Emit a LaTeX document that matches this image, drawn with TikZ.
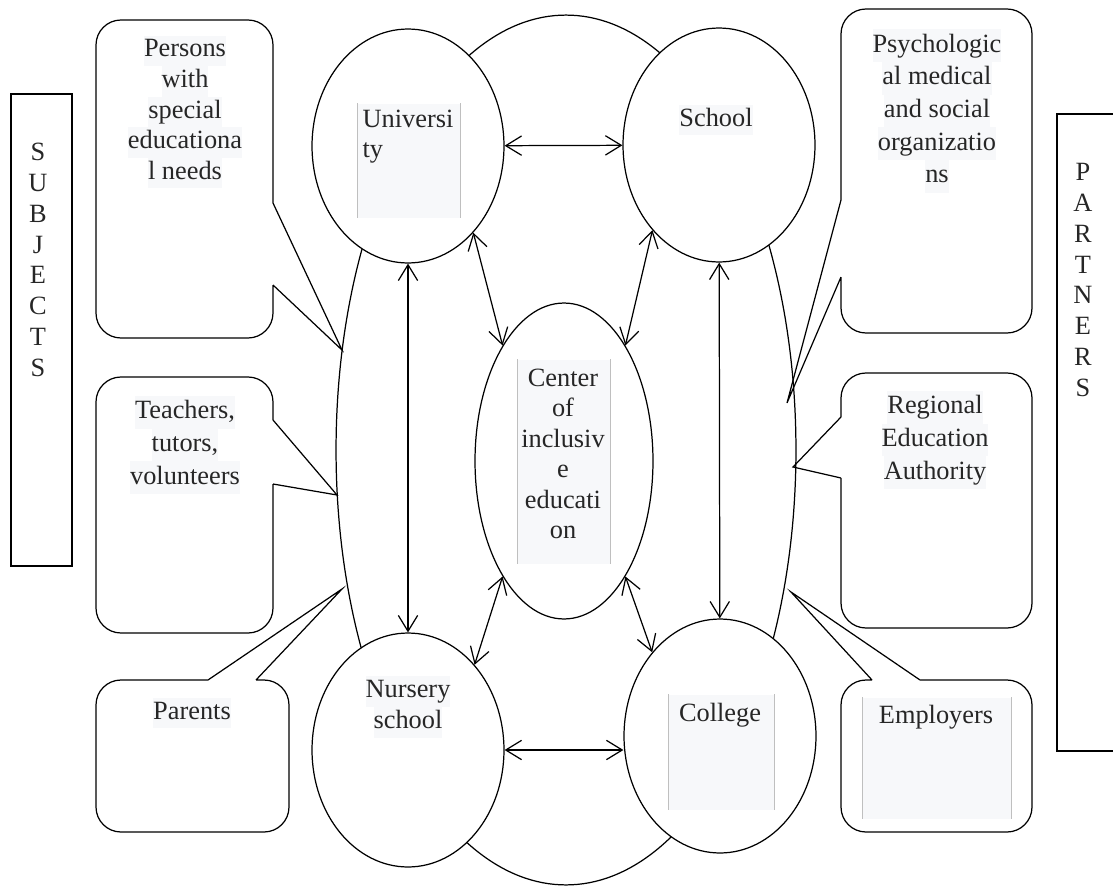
\documentclass[tikz,border=0pt]{standalone}
\usepackage{fontspec}
\setmainfont{Liberation Serif}
\usetikzlibrary{shapes.geometric, arrows.meta}
\definecolor{hl}{RGB}{247,248,250}
\newcommand{\hilite}[1]{{\setlength{\fboxsep}{0pt}\colorbox{hl}{\strut #1}}}
\tikzset{
  org/.style={ellipse, draw, fill=white, minimum width=3.84cm, minimum height=4.68cm},
  bubble/.style={draw, rounded corners=0.5cm},
  txt/.style={font=\fontsize{15}{17.4}\selectfont, text=black!85, align=center, inner sep=0pt},
  wide/.style={font=\fontsize{15}{18.6}\selectfont},
  hlbox/.style={fill=hl, inner sep=0pt},
  hlrule/.style={draw=black!25, line width=0.5pt}
}

\begin{document}
\begin{tikzpicture}[x=0.02cm, y=-0.02cm, line width=0.7pt, >={Straight Barb[length=9pt,width=11pt]}]
    \useasboundingbox (0,0) rectangle (1113,896);
    % big ring behind the institutions
    \node[ellipse, draw, minimum width=9.2cm, minimum height=17.4cm] (ring) at (566,450) {};
    \node[org] (univ) at (408,146) {};
    \node[org] (school) at (719,145) {};
    \node[org] (nursery) at (408,750) {};
    \node[org] (college) at (720,736) {};
    \node[ellipse, draw, fill=white, minimum width=3.56cm, minimum height=6.32cm] (centre) at (564,461) {};
    % links
    \draw[<->] (univ) -- (school);
    \draw[<->] (nursery.east) -- (nursery.east -| college.west);
    \draw[<->] (univ) -- (nursery);
    \draw[<->] (school) -- (college);
    \draw[<->] (univ.-53) -- (centre.118);
    \draw[<->] (school.-128) -- (centre.62);
    \draw[<->] (nursery.52) -- (centre.-118);
    \draw[<->] (college.129) -- (centre.-62);
    % grey text boxes
    \node[hlbox, minimum width=2.04cm, minimum height=2.28cm, anchor=north west] (univbox) at (357,103) {};
    \node[txt, align=left, anchor=north west] (univtext) at (362,109) {Universi\\ty};
    \node[hlbox, minimum width=1.84cm, minimum height=4.08cm, anchor=north west] (centrebox) at (517,359) {};
    \node[txt, anchor=north] (centretext) at (563,368) {Center\\of\\inclusiv\\e\\educati\\on};
    \node[hlbox, minimum width=2.1cm, minimum height=2.3cm, anchor=north west] (collegebox) at (668,694) {};
    \node[txt, anchor=north] (collegetext) at (720,703) {College};
    \node[hlbox, minimum width=2.96cm, minimum height=2.42cm, anchor=north west] (employbox) at (862,697) {};
    \node[txt, anchor=north] (employtext) at (936,705) {Employers};
    \foreach \b in {univbox, centrebox, collegebox, employbox}
        \draw[hlrule] (\b.north west) -- (\b.south west) (\b.north east) -- (\b.south east);
    \node[txt] (schooltext) at (716,120) {\hilite{School}};
    \node[txt] (nurserytext) at (408,707) {\hilite{Nursery}\\\hilite{school}};
    % subjects side
    \draw[bubble] (273,203) -- (273,20) -- (96,20) -- (96,338) -- (273,338) -- (273,285)
        [sharp corners] (273,203) -- (342,350) -- (273,285);
    \node[txt] (persons) at (185,112) {\hilite{Persons}\\\hilite{with}\\\hilite{special}\\\hilite{educationa}\\\hilite{l needs}};
    \draw[bubble] (273,420) -- (273,377) -- (96,377) -- (96,633) -- (273,633) -- (273,484)
        [sharp corners] (273,420) -- (337,495) -- (273,484);
    \node[txt, wide] (teachers) at (185,445) {\hilite{Teachers,}\\\hilite{tutors,}\\\hilite{volunteers}};
    \draw[bubble] (256,680) -- (289,680) -- (289,832) -- (96,832) -- (96,680) -- (208,680)
        [sharp corners] (208,680) -- (342,589) -- (256,680);
    \node[txt] (parents) at (192,713) {\hilite{Parents}};
    \node[draw, minimum width=1.22cm, minimum height=9.44cm] (subjbox) at (41.5,330) {};
    \node[txt, font=\fontsize{15}{17.5}\selectfont] (subjects) at (38,260) {S\\U\\B\\J\\E\\C\\T\\S};
    % partners side
    \draw[bubble] (841,200) -- (841,9) -- (1032,9) -- (1032,333) -- (841,333) -- (841,277)
        [sharp corners] (841,200) -- (787,403) -- (841,277);
    \node[txt, wide] (psych) at (937,111) {\hilite{Psychologic}\\\hilite{al medical}\\\hilite{and social}\\\hilite{organizatio}\\\hilite{ns}};
    \draw[bubble] (841,417) -- (841,373) -- (1032,373) -- (1032,628) -- (841,628) -- (841,478)
        [sharp corners] (841,417) -- (793,467) -- (841,478);
    \node[txt, wide] (regional) at (935,440) {\hilite{Regional}\\\hilite{Education}\\\hilite{Authority}};
    \draw[bubble] (920,680) -- (1032,680) -- (1032,832) -- (841,832) -- (841,680) -- (872,680)
        [sharp corners] (872,680) -- (791,592) -- (920,680);
    \draw (1113,114) -- (1057,114) -- (1057,751) -- (1113,751);
    \node[txt, font=\fontsize{15}{17.5}\selectfont] (partners) at (1083,280) {P\\A\\R\\T\\N\\E\\R\\S};
\end{tikzpicture}
\end{document}
